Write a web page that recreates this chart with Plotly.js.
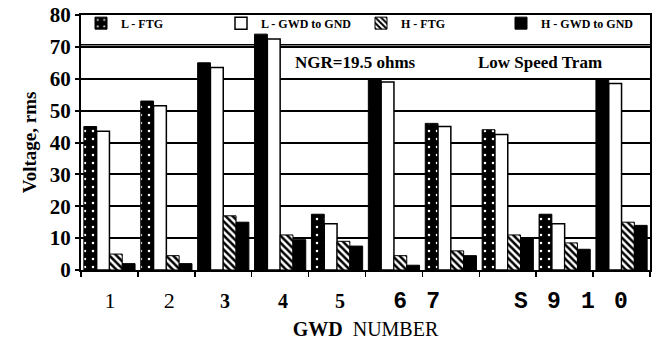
<!DOCTYPE html>
<html>
<head>
<meta charset="utf-8">
<script src="https://cdn.plot.ly/plotly-3.0.1.min.js"></script>
<style>html,body{margin:0;padding:0;background:#fff;}#chart{width:652px;height:345px;}</style>
</head>
<body>
<div id="chart"></div>
<script>
// ---- data ----
const groups = [1, 2, 3, 4, 5, 6, 7, 8, 9, 10];
const seriesNames = ['L - FTG', 'L - GWD to GND', 'H - FTG', 'H - GWD to GND'];
const lFtg   = [45, 53, 65, 74, 17.5, 60, 46, 44, 17.5, 60];
const lGwd   = [43.5, 51.5, 63.5, 72.5, 14.5, 59, 45, 42.5, 14.5, 58.5];
const hFtg   = [5, 4.5, 17, 11, 9, 4.5, 6, 11, 8.5, 15];
const hGwd   = [2, 2, 15, 9.5, 7.5, 1.5, 4.5, 10, 6.5, 14];
const tickLabels = ['1', '2', '3', '4', '5', '6', '7', 'S', '9', '1', '0'];
const tickPositions = [1.01, 2.05, 3.03, 4.05, 5.05, 6.11, 6.69, 8.23, 8.81, 9.41, 9.99];
const yTicks = [0, 10, 20, 30, 40, 50, 60, 70, 80];
const notes = ['NGR=19.5 ohms', 'Low Speed Tram'];

// ---- styling of tick labels (scan has mixed typefaces) ----
const tickStyles = ['serif', 'serif', 'bold', 'bold', 'bold', 'mono', 'mono', 'mono', 'mono', 'mono', 'mono'];
const tickText = tickLabels.map((t, i) => {
  const s = tickStyles[i];
  if (s === 'serif') return '<span style="font-family:Liberation Serif;font-size:22px">' + t + '</span>';
  if (s === 'bold') return '<span style="font-family:Liberation Serif;font-size:20px;font-weight:bold">' + t + '</span>';
  return '<span style="font-family:Liberation Mono;font-size:23px;font-weight:bold">' + t + '</span>';
});

const dotShapes = lFtg.map(v => (v >= 60 ? '' : '.'));

const traces = [
  {
    type: 'bar', name: seriesNames[0], x: groups, y: lFtg,
    marker: {
      color: '#000',
      line: {color: '#000', width: 1},
      pattern: {shape: dotShapes, fgcolor: '#fff', bgcolor: '#000', size: 8, solidity: 0.08, fillmode: 'replace'}
    }
  },
  {
    type: 'bar', name: seriesNames[1], x: groups, y: lGwd,
    marker: {color: '#fff', line: {color: '#000', width: 1.5}}
  },
  {
    type: 'bar', name: seriesNames[2], x: groups, y: hFtg,
    marker: {
      color: '#fff',
      line: {color: '#000', width: 1},
      pattern: {shape: '\\', fgcolor: '#000', bgcolor: '#fff', size: 5, solidity: 0.5}
    }
  },
  {
    type: 'bar', name: seriesNames[3], x: groups, y: hGwd,
    marker: {color: '#000', line: {color: '#000', width: 1}}
  }
];

const layout = {
  width: 652, height: 345,
  margin: {l: 81, r: 2, t: 15, b: 75},
  paper_bgcolor: '#fff', plot_bgcolor: '#fff',
  barmode: 'group', bargap: 0.1, bargroupgap: 0,
  showlegend: true,
  legend: {
    orientation: 'h', x: 0, xanchor: 'left', y: 1.025, yanchor: 'top',
    bgcolor: 'rgba(0,0,0,0)', borderwidth: 0,
    entrywidth: 95, entrywidthmode: 'pixels',
    font: {family: 'Liberation Serif', size: 12, color: '#000', weight: 'bold'},
    traceorder: 'normal', itemwidth: 30
  },
  xaxis: {
    type: 'linear', range: [0.5, 10.5],
    showgrid: false, zeroline: false,
    showline: true, linecolor: '#000', linewidth: 2, mirror: true,
    tickmode: 'array', tickvals: tickPositions, ticktext: tickText,
    ticks: '', ticklabelstandoff: 10,
    tickfont: {family: 'Liberation Serif', size: 22, color: '#000'},
    minor: {tickmode: 'array', tickvals: [0.5,1.5,2.5,3.5,4.5,5.5,6.5,7.5,8.5,9.5,10.5], ticks: 'outside', ticklen: 5, tickwidth: 1.5, tickcolor: '#000', showgrid: false},
    title: {text: '<b>GWD</b>  NUMBER', font: {family: 'Liberation Serif', size: 20, color: '#000'}, standoff: 8}
  },
  yaxis: {
    range: [0, 80], tickmode: 'array', tickvals: yTicks,
    showgrid: true, gridcolor: '#000', gridwidth: 2,
    zeroline: false, showline: true, linecolor: '#000', linewidth: 2, mirror: true,
    ticks: 'outside', ticklen: 4, tickwidth: 2, tickcolor: '#000',
    tickfont: {family: 'Liberation Serif', size: 21, color: '#000', weight: 'bold'},
    title: {text: 'Voltage, rms', font: {family: 'Liberation Serif', size: 19, color: '#000', weight: 'bold'}, standoff: 8}
  },
  shapes: [
    {type: 'line', xref: 'paper', yref: 'y', x0: 0, x1: 1, y0: 70.7, y1: 70.7, layer: 'below', line: {color: '#000', width: 1.5}}
  ],
  annotations: [
    {text: notes[0], x: 5.32, y: 65, xref: 'x', yref: 'y', showarrow: false,
     font: {family: 'Liberation Serif', size: 17, color: '#000', weight: 'bold'}},
    {text: notes[1], x: 8.57, y: 65, xref: 'x', yref: 'y', showarrow: false,
     font: {family: 'Liberation Serif', size: 17, color: '#000', weight: 'bold'}}
  ]
};

Plotly.newPlot('chart', traces, layout, {staticPlot: true, displayModeBar: false});
</script>
</body>
</html>
